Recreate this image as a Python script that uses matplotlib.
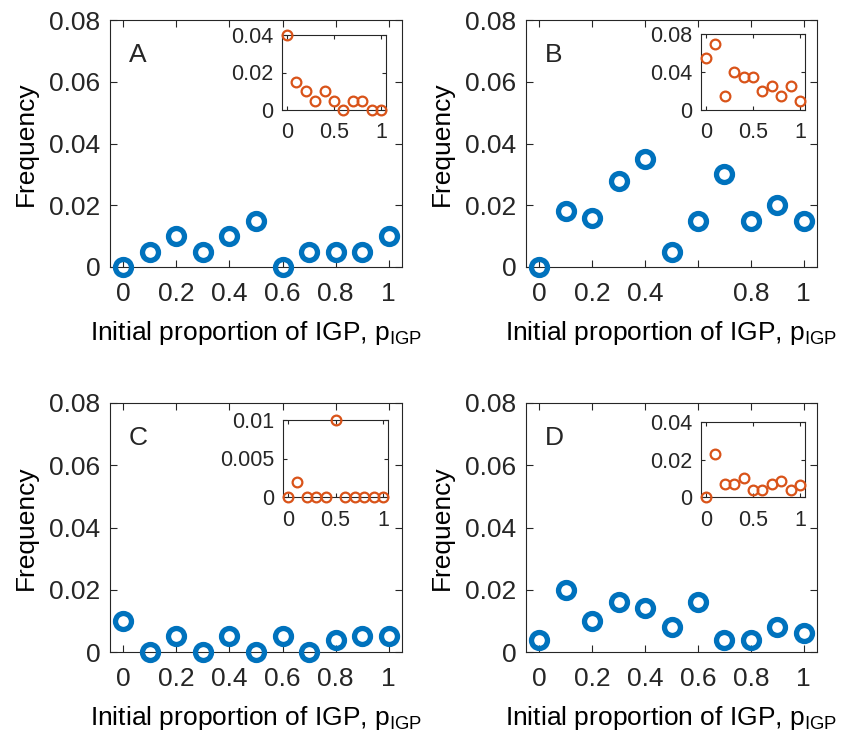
import matplotlib
matplotlib.use('Agg')
import matplotlib.pyplot as plt

plt.rcParams['font.family'] = ['Liberation Sans', 'DejaVu Sans']
plt.rcParams['text.color'] = '#262626'
plt.rcParams['axes.edgecolor'] = '#262626'
plt.rcParams['xtick.color'] = '#262626'
plt.rcParams['ytick.color'] = '#262626'
plt.rcParams['mathtext.default'] = 'regular'

# data
p = [0, 0.1, 0.2, 0.3, 0.4, 0.5, 0.6, 0.7, 0.8, 0.9, 1.0]

freq_A = [0, 0.005, 0.010, 0.005, 0.010, 0.015, 0, 0.005, 0.005, 0.005, 0.010]
freq_B = [0, 0.018, 0.016, 0.028, 0.035, 0.005, 0.015, 0.030, 0.015, 0.020, 0.015]
freq_C = [0.010, 0, 0.005, 0, 0.005, 0, 0.005, 0, 0.0037, 0.005, 0.005]
freq_D = [0.004, 0.020, 0.010, 0.016, 0.014, 0.008, 0.016, 0.004, 0.004, 0.008, 0.006]

inset_A = [0.040, 0.015, 0.010, 0.005, 0.010, 0.005, 0, 0.005, 0.005, 0, 0]
inset_B = [0.055, 0.070, 0.015, 0.040, 0.035, 0.035, 0.020, 0.025, 0.015, 0.025, 0.010]
inset_C = [0, 0.002, 0, 0, 0, 0.010, 0, 0, 0, 0, 0]
inset_D = [0, 0.023, 0.007, 0.007, 0.010, 0.004, 0.004, 0.007, 0.0085, 0.004, 0.0065]

main_yticks = [0, 0.02, 0.04, 0.06, 0.08]
main_ylabels = ['0', '0.02', '0.04', '0.06', '0.08']
main_xticks = [0, 0.2, 0.4, 0.6, 0.8, 1]
main_xlabels = ['0', '0.2', '0.4', '0.6', '0.8', '1']
main_xlabels_B = ['0', '0.2', '0.4', '', '0.8', '1']

inset_yticks = {'A': [0, 0.02, 0.04], 'B': [0, 0.04, 0.08],
                'C': [0, 0.005, 0.01], 'D': [0, 0.02, 0.04]}
inset_ylabels = {'A': ['0', '0.02', '0.04'], 'B': ['0', '0.04', '0.08'],
                 'C': ['0', '0.005', '0.01'], 'D': ['0', '0.02', '0.04']}
inset_ylim = {'A': 0.04, 'B': 0.08, 'C': 0.01, 'D': 0.04}

W, H = 844, 742
fig = plt.figure(figsize=(W / 100, H / 100), dpi=100)

def px_axes(l, t, r, b):
    return fig.add_axes([l / W, 1 - b / H, (r - l) / W, (b - t) / H])

blue = '#0072BD'
orange = '#D95319'

panels = [
    ('A', freq_A, inset_A, (110, 20, 402, 267), (282, 35, 386, 110), main_xlabels),
    ('B', freq_B, inset_B, (526, 20, 817, 267), (701, 34, 805, 110), main_xlabels_B),
    ('C', freq_C, inset_C, (110, 403, 402, 652), (283, 420, 388, 497), main_xlabels),
    ('D', freq_D, inset_D, (526, 403, 817, 652), (701, 422, 805, 497), main_xlabels),
]

for name, f, fi, box, ibox, xl in panels:
    ax = px_axes(*box)
    ax.plot(p, f, 'o', mfc='none', mec=blue, ms=11.5, mew=3.8, clip_on=False, zorder=5)
    ax.set_xlim(-0.05, 1.05)
    ax.set_ylim(0, 0.08)
    ax.set_xticks(main_xticks)
    ax.set_xticklabels(xl)
    ax.set_yticks(main_yticks)
    ax.set_yticklabels(main_ylabels)
    ax.tick_params(direction='in', length=5, width=0.8, top=True, right=True,
                   labelsize=19)
    ax.tick_params(axis='x', pad=11)
    ax.tick_params(axis='y', pad=7)
    for s in ax.spines.values():
        s.set_linewidth(0.8)
    ax.set_ylabel('Frequency', fontsize=19, labelpad=8)
    ax.set_xlabel('Initial proportion of IGP, p$_{IGP}$', fontsize=19, labelpad=9)
    ax.text(0.02, 0.0664, name, fontsize=19)

    ia = px_axes(*ibox)
    ia.plot(p, fi, 'o', mfc='none', mec=orange, ms=7, mew=1.6, clip_on=False, zorder=5)
    ia.set_xlim(-0.05, 1.05)
    ia.set_ylim(0, inset_ylim[name])
    ia.set_xticks([0, 0.5, 1])
    ia.set_xticklabels(['0', '0.5', '1'])
    ia.set_yticks(inset_yticks[name])
    ia.set_yticklabels(inset_ylabels[name])
    ia.tick_params(direction='in', length=3, width=0.8, top=True, right=True,
                   labelsize=15.5)
    ia.tick_params(axis='x', pad=9)
    ia.tick_params(axis='y', pad=6)
    for s in ia.spines.values():
        s.set_linewidth(0.8)

plt.savefig('out.png', dpi=100)
